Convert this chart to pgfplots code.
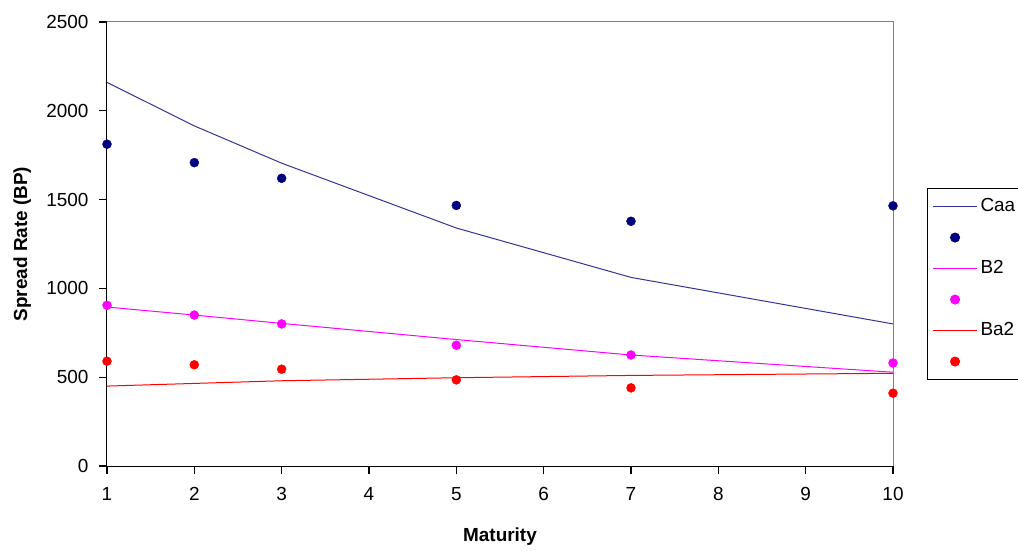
\documentclass[border=0pt]{standalone}
\usepackage{pgfplots}
\pgfplotsset{compat=1.18}
\usepackage{fontspec}
\setmainfont{Liberation Sans}
\definecolor{caaline}{RGB}{51,51,153}
\definecolor{caadot}{RGB}{0,0,128}
\definecolor{bmag}{RGB}{255,0,255}
\definecolor{bared}{RGB}{255,0,0}
\begin{document}
\begin{tikzpicture}
\begin{axis}[
  name=ax,
  scale only axis,
  width=786bp, height=444bp,
  xmin=1, xmax=10, ymin=0, ymax=2500,
  axis x line*=bottom, axis y line*=left,
  xtick={1,2,...,10},
  ytick={0,500,1000,1500,2000,2500},
  axis line style={black, line width=1bp},
  xtick align=outside, ytick align=outside,
  major tick length=8bp,
  every tick/.style={black, line width=1.2bp},
  /pgf/number format/assume math mode=true,
  /pgf/number format/1000 sep={},
  tick label style={font=\fontsize{19}{22}\selectfont},
  xticklabel style={yshift=-10bp},
  yticklabel style={xshift=-7bp},
  xlabel={Maturity},
  ylabel={Spread Rate (BP)},
  label style={font=\bfseries\fontsize{19}{22}\selectfont},
  xlabel style={at={(axis description cs:0.5,-0.16)}, anchor=center},
  ylabel style={at={(axis description cs:-0.108,0.5)}, anchor=center},
  legend style={at={(rel axis cs:1.0433,0.626)}, anchor=north west,
    draw=black, line width=1bp, inner xsep=5bp, inner ysep=6bp,
    font=\fontsize{19}{22}\selectfont, row sep=7bp,
    nodes={text height=14bp, text depth=4bp, inner sep=3bp}},
  legend cell align=left,
  clip=false,
  lineleg/.style={legend image code/.code={\draw[##1] (0bp,0bp) -- (44bp,0bp);}},
  dotleg/.style={legend image code/.code={\draw[mark repeat=2,mark phase=2,##1] plot coordinates {(0bp,0bp) (22bp,0bp) (44bp,0bp)};}},
]
\addplot[caaline, line width=1bp, mark=none, lineleg] coordinates {
 (1,2160) (2,1915) (3,1705) (5,1340) (7,1062) (10,800)};
\addlegendentry{Caa}
\addplot[only marks, mark=*, mark size=4.5bp, caadot, dotleg] coordinates {
 (1,1812) (2,1708) (3,1620) (5,1467) (7,1378) (10,1465)};
\addlegendentry{}
\addplot[bmag, line width=1bp, mark=none, lineleg] coordinates {
 (1,895) (2,850) (3,803) (5,712) (7,625) (10,528)};
\addlegendentry{B2}
\addplot[only marks, mark=*, mark size=4.5bp, bmag, dotleg] coordinates {
 (1,905) (2,850) (3,800) (5,680) (7,625) (10,580)};
\addlegendentry{}
\addplot[bared, line width=1bp, mark=none, lineleg] coordinates {
 (1,450) (2,465) (3,480) (5,497) (7,510) (10,522)};
\addlegendentry{Ba2}
\addplot[only marks, mark=*, mark size=4.5bp, bared, dotleg] coordinates {
 (1,590) (2,570) (3,545) (5,485) (7,440) (10,410)};
\addlegendentry{}
\draw[gray, line width=1bp] (rel axis cs:0,1) -- (rel axis cs:1,1) -- (rel axis cs:1,0);
\end{axis}
\pgfresetboundingbox
\path ([shift={(-107bp,-84bp)}]ax.south west) rectangle ([shift={(125bp,22bp)}]ax.north east);
\end{tikzpicture}
\end{document}
